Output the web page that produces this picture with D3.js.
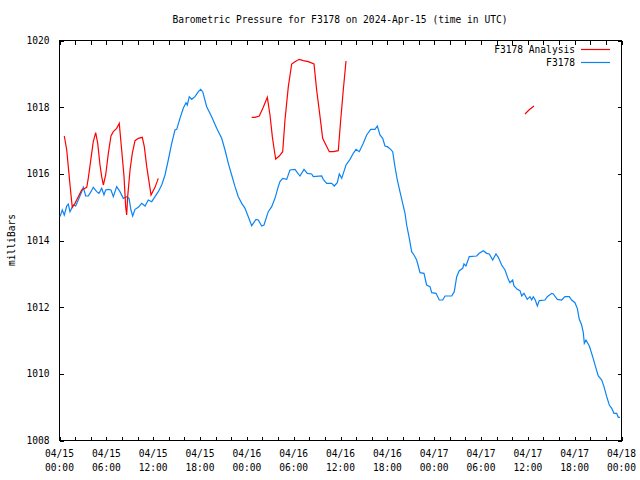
<!DOCTYPE html>
<html><head><meta charset="utf-8">
<script src="https://cdn.jsdelivr.net/npm/d3@7"></script>
<style>
body{margin:0;background:#fff}
text{font-family:"DejaVu Sans Mono",monospace;font-size:9.6px;fill:#000}
</style>
</head><body><svg id="c" width="640" height="480"></svg>
<script>
// Hours since 2024-04-15 00:00 UTC
const stationHours = [0.13,0.42,0.68,0.99,1.19,1.41,1.83,2.14,2.47,2.91,3.11,3.42,3.75,4.10,4.39,4.83,5.12,5.47,5.76,5.98,6.32,6.66,6.96,7.39,7.81,8.24,8.67,8.97,9.22,9.44,9.74,10.16,10.59,11.02,11.44,11.88,12.30,12.72,13.16,13.58,14.00,14.44,14.86,15.08,15.50,15.92,16.27,16.44,16.69,17.00,17.42,17.85,18.15,18.41,18.92,19.56,20.20,20.84,21.27,21.69,22.12,22.55,22.97,23.41,23.83,24.25,24.69,25.24,25.53,25.97,26.26,26.81,27.25,27.67,28.09,28.31,28.66,29.17,29.59,30.23,30.87,31.39,31.81,32.37,32.58,33.65,33.86,34.29,34.94,35.27,35.65,35.91,36.22,36.77,37.28,37.70,38.05,38.47,38.98,39.42,39.93,40.48,40.78,41.12,41.47,41.76,42.06,42.49,42.75,43.04,43.34,43.68,44.03,44.33,44.54,44.88,45.18,45.48,45.82,46.03,46.25,46.76,47.10,47.53,47.75,48.30,48.72,49.16,49.45,50.31,50.64,50.95,51.28,51.72,51.88,52.14,52.56,53.51,53.84,54.36,54.79,55.13,55.56,55.98,56.28,56.71,57.14,57.56,57.78,58.12,58.29,58.71,59.06,59.28,59.57,59.99,60.34,60.56,60.76,61.02,61.28,61.53,62.26,62.56,63.12,63.32,63.84,64.40,64.82,65.37,65.68,66.10,66.40,66.66,66.96,67.17,67.30,67.51,67.94,68.37,68.80,69.09,69.53,69.82,70.17,70.50,70.81,71.10,71.45,71.65,71.87];
const stationPressure = [1014.70,1014.90,1014.75,1015.02,1015.08,1014.85,1015.05,1015.02,1015.20,1015.45,1015.58,1015.32,1015.32,1015.45,1015.58,1015.45,1015.40,1015.55,1015.35,1015.50,1015.52,1015.50,1015.30,1015.60,1015.45,1015.25,1015.30,1015.25,1014.90,1014.72,1014.92,1014.98,1015.10,1015.02,1015.20,1015.15,1015.30,1015.45,1015.65,1015.95,1016.40,1016.90,1017.30,1017.32,1017.65,1017.95,1018.12,1018.05,1018.30,1018.22,1018.30,1018.45,1018.52,1018.45,1018.00,1017.70,1017.35,1017.05,1016.70,1016.30,1015.95,1015.60,1015.30,1015.10,1014.95,1014.70,1014.43,1014.62,1014.60,1014.42,1014.45,1014.85,1015.00,1015.25,1015.60,1015.75,1015.85,1015.82,1016.10,1016.12,1015.92,1016.12,1016.00,1015.98,1015.90,1015.92,1015.82,1015.70,1015.70,1015.62,1015.72,1015.98,1015.85,1016.25,1016.42,1016.60,1016.72,1016.65,1016.90,1017.15,1017.32,1017.32,1017.42,1017.15,1017.05,1016.82,1016.80,1016.72,1016.65,1016.20,1015.80,1015.45,1015.10,1014.80,1014.45,1014.05,1013.65,1013.55,1013.40,1013.22,1013.02,1013.00,1012.65,1012.60,1012.42,1012.40,1012.20,1012.20,1012.32,1012.32,1012.45,1012.90,1013.08,1013.15,1013.28,1013.22,1013.50,1013.52,1013.60,1013.68,1013.60,1013.58,1013.40,1013.58,1013.48,1013.25,1013.10,1012.82,1012.72,1012.80,1012.62,1012.52,1012.48,1012.32,1012.40,1012.22,1012.30,1012.20,1012.30,1012.20,1012.02,1012.18,1012.20,1012.30,1012.40,1012.38,1012.22,1012.20,1012.30,1012.30,1012.20,1012.12,1011.95,1011.62,1011.45,1011.22,1010.90,1011.00,1010.82,1010.50,1010.15,1009.92,1009.80,1009.60,1009.30,1009.05,1008.95,1008.80,1008.80,1008.68,1008.68];
// null marks a gap in the analysis series
const analysisHours = [0.68,0.99,1.19,1.41,1.70,2.05,2.47,2.91,3.55,3.75,4.10,4.39,4.70,4.96,5.25,5.47,5.68,5.98,6.32,6.66,6.96,7.39,7.72,8.03,8.33,8.54,8.67,8.80,9.10,9.39,9.74,10.16,10.67,10.93,11.24,11.53,11.79,12.30,12.72,null,24.69,25.11,25.66,26.17,26.69,27.03,27.33,27.58,27.76,28.22,28.66,28.95,29.38,29.81,30.23,30.78,31.30,31.94,32.67,33.01,33.44,33.78,34.20,34.63,35.14,35.78,36.09,36.42,36.77,null,59.70,60.21,60.85];
const analysisPressure = [1017.12,1016.70,1016.20,1015.65,1014.98,1015.10,1015.30,1015.50,1015.58,1015.85,1016.45,1016.95,1017.22,1016.90,1016.25,1015.90,1015.65,1015.95,1016.60,1017.12,1017.25,1017.35,1017.50,1016.70,1015.90,1015.00,1014.75,1015.30,1016.10,1016.60,1016.98,1017.05,1017.08,1016.80,1016.20,1015.75,1015.35,1015.58,1015.85,null,1017.68,1017.68,1017.72,1017.98,1018.28,1017.75,1017.10,1016.70,1016.43,1016.52,1016.65,1017.60,1018.60,1019.28,1019.35,1019.42,1019.38,1019.35,1019.28,1018.50,1017.70,1017.05,1016.85,1016.65,1016.65,1016.68,1017.60,1018.50,1019.37,null,1017.78,1017.90,1018.02];
const yTickValues = [1008,1010,1012,1014,1016,1018,1020];
const xTickHours = d3.range(0, 73, 2);
const xLabelHours = [0,6,12,18,24,30,36,42,48,54,60,66,72];
const seriesNames = ["F3178 Analysis", "F3178"];
const seriesColors = ["#ff0000", "#0a84f5"];
const titleText = "Barometric Pressure for F3178 on 2024-Apr-15 (time in UTC)";
const yAxisTitle = "milliBars";

const start = Date.UTC(2024, 3, 15);
const toDate = h => new Date(start + h * 3600e3);

const L = 59, R = 621, T = 40, B = 440;
const svg = d3.select("#c");
const x = d3.scaleUtc().domain([toDate(0), toDate(72)]).range([L, R]);
const y = d3.scaleLinear().domain([1008, 1020]).range([B, T]);

// frame
svg.append("rect").attr("x", L + 0.5).attr("y", T + 0.5).attr("width", R - L).attr("height", B - T)
  .attr("fill", "none").attr("stroke", "#000").attr("shape-rendering", "crispEdges");

const fmtD = d3.utcFormat("%m/%d"), fmtT = d3.utcFormat("%H:%M");
const isLabel = d => xLabelHours.includes(Math.round((d - start) / 3600e3));

function styleAxis(g) {
  g.select(".domain").remove();
  g.selectAll(".tick line").attr("stroke", "#000").attr("shape-rendering", "crispEdges");
}
// bottom axis
const gb = svg.append("g").attr("transform", `translate(0.5,${B + 0.5})`)
  .call(d3.axisBottom(x).tickValues(xTickHours.map(toDate)).tickSize(-4).tickFormat(""))
  .call(styleAxis);
gb.selectAll(".tick text").remove();
const labs = svg.append("g");
xLabelHours.forEach(h => {
  const t = labs.append("text").attr("text-anchor", "middle").attr("x", x(toDate(h)) + 0.5);
  t.append("tspan").attr("x", x(toDate(h)) + 0.5).attr("y", 457).text(fmtD(toDate(h)));
  t.append("tspan").attr("x", x(toDate(h)) + 0.5).attr("y", 471).text(fmtT(toDate(h)));
});
// top axis (mirror)
svg.append("g").attr("transform", `translate(0.5,${T + 0.5})`)
  .call(d3.axisTop(x).tickValues(xTickHours.map(toDate)).tickSize(-4).tickFormat(""))
  .call(styleAxis);
// left axis
const gl = svg.append("g").attr("transform", `translate(${L + 0.5},0.5)`)
  .call(d3.axisLeft(y).tickValues(yTickValues).tickSize(-4).tickPadding(10).tickFormat(d3.format("d")))
  .call(styleAxis);
gl.selectAll(".tick text").attr("font-family", '"DejaVu Sans Mono",monospace').attr("font-size", "9.6px").attr("fill", "#000");
// right axis
svg.append("g").attr("transform", `translate(${R + 0.5},0.5)`)
  .call(d3.axisRight(y).tickValues(yTickValues).tickSize(-4).tickFormat(""))
  .call(styleAxis);

// lines
const stationData = stationHours.map((h, i) => ({ d: toDate(h), v: stationPressure[i] }));
const analysisData = analysisHours.map((h, i) => ({ d: h === null ? null : toDate(h), v: analysisPressure[i] }));
const line = d3.line().defined(p => p.d !== null && p.v !== null).x(p => x(p.d)).y(p => y(p.v));

svg.append("path").datum(stationData).attr("d", line)
  .attr("fill", "none").attr("stroke", seriesColors[1]).attr("stroke-width", 1.2);
svg.append("path").datum(analysisData).attr("d", line)
  .attr("fill", "none").attr("stroke", seriesColors[0]).attr("stroke-width", 1.2);

// title
svg.append("text").attr("x", 340).attr("y", 23).attr("text-anchor", "middle").text(titleText);
// y title
svg.append("text").attr("transform", "translate(15,240) rotate(-90)").attr("text-anchor", "middle").text(yAxisTitle);

// legend
seriesNames.forEach((n, i) => {
  const yy = 49 + i * 13;
  svg.append("text").attr("x", 575).attr("y", yy + 3.5).attr("text-anchor", "end").text(n);
  svg.append("line").attr("x1", 581).attr("x2", 610).attr("y1", yy + 0.5).attr("y2", yy + 0.5)
    .attr("stroke", seriesColors[i]).attr("stroke-width", 1.2);
});
</script>
</body></html>
